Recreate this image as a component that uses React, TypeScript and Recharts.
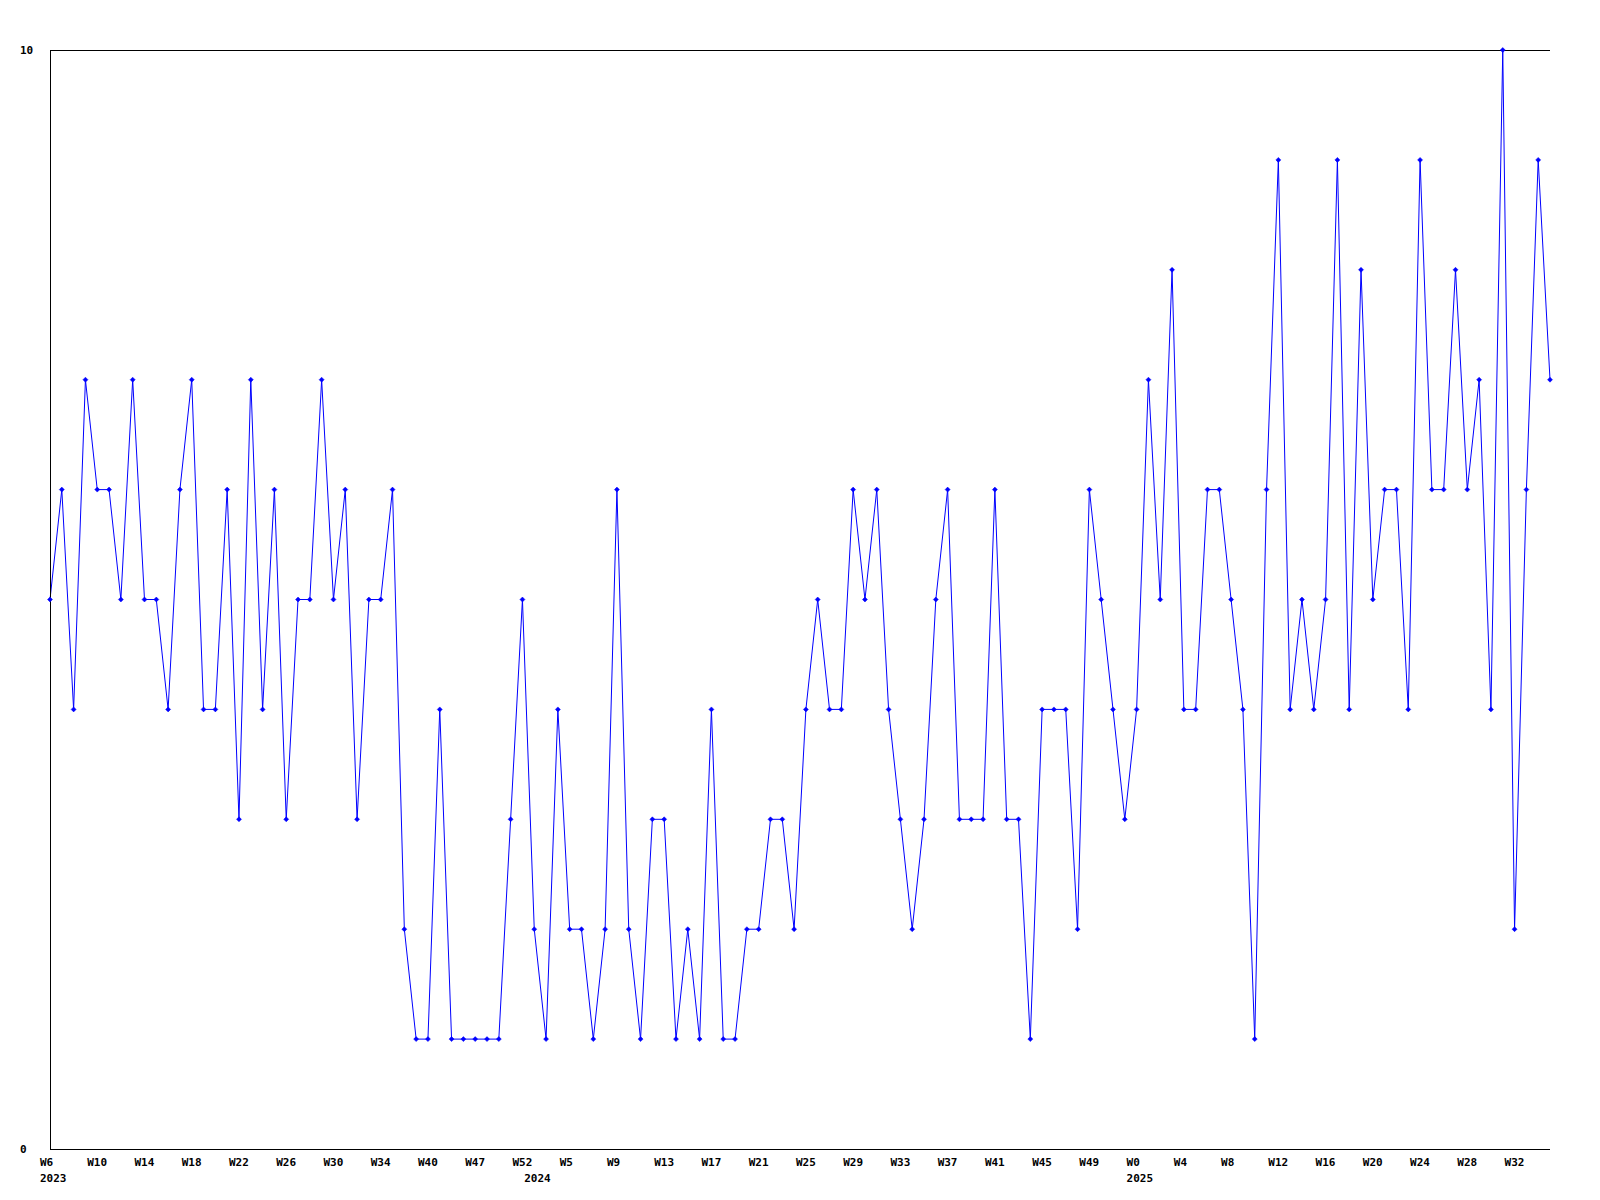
import React from 'react';
import { LineChart, Line, XAxis, YAxis, CartesianGrid } from 'recharts';

const WEEKS_2023 = [
  'W6', 'W7', 'W8', 'W9', 'W10', 'W11', 'W12', 'W13', 'W14', 'W15',
  'W16', 'W17', 'W18', 'W19', 'W20', 'W21', 'W22', 'W23', 'W24', 'W25',
  'W26', 'W27', 'W28', 'W29', 'W30', 'W31', 'W32', 'W33', 'W34', 'W35',
  'W37', 'W38', 'W40', 'W41', 'W43', 'W45', 'W47', 'W48', 'W49', 'W51',
  'W52',
];

const WEEKS_2024 = [
  'W1', 'W2', 'W4', 'W5', 'W6', 'W7', 'W8', 'W9', 'W10', 'W11',
  'W12', 'W13', 'W14', 'W15', 'W16', 'W17', 'W18', 'W19', 'W20', 'W21',
  'W22', 'W23', 'W24', 'W25', 'W26', 'W27', 'W28', 'W29', 'W30', 'W31',
  'W32', 'W33', 'W34', 'W35', 'W36', 'W37', 'W38', 'W39', 'W40', 'W41',
  'W42', 'W43', 'W44', 'W45', 'W46', 'W47', 'W48', 'W49', 'W50', 'W51',
  'W52',
];

const WEEKS_2025 = [
  'W0', 'W1', 'W2', 'W3', 'W4', 'W5', 'W6', 'W7', 'W8', 'W9',
  'W10', 'W11', 'W12', 'W13', 'W14', 'W15', 'W16', 'W17', 'W18', 'W19',
  'W20', 'W21', 'W22', 'W23', 'W24', 'W25', 'W26', 'W27', 'W28', 'W29',
  'W30', 'W31', 'W32', 'W33', 'W34', 'W35',
];

const VALUES = [
  5, 6, 4, 7, 6, 6, 5, 7, 5, 5,
  4, 6, 7, 4, 4, 6, 3, 7, 4, 6,
  3, 5, 5, 7, 5, 6, 3, 5, 5, 6,
  2, 1, 1, 4, 1, 1, 1, 1, 1, 3,
  5, 2, 1, 4, 2, 2, 1, 2, 6, 2,
  1, 3, 3, 1, 2, 1, 4, 1, 1, 2,
  2, 3, 3, 2, 4, 5, 4, 4, 6, 5,
  6, 4, 3, 2, 3, 5, 6, 3, 3, 3,
  6, 3, 3, 1, 4, 4, 4, 2, 6, 5,
  4, 3, 4, 7, 5, 8, 4, 4, 6, 6,
  5, 4, 1, 6, 9, 4, 5, 4, 5, 9,
  4, 8, 5, 6, 6, 4, 9, 6, 6, 8,
  6, 7, 4, 10, 2, 6, 9, 7,
];

const Y_TICKS = [0, 10];
const LABEL_EVERY = 4;

const FONT = '"DejaVu Sans Mono", "Liberation Mono", monospace';

const data = [
  ...WEEKS_2023.map((w) => ({ week: w, year: '2023' })),
  ...WEEKS_2024.map((w) => ({ week: w, year: '2024' })),
  ...WEEKS_2025.map((w) => ({ week: w, year: '2025' })),
].map((d, i) => ({ ...d, key: `${d.year}-${d.week}`, value: VALUES[i] }));

const WeekTick = ({ x, y, payload, index }: any) => {
  const i = payload?.index ?? index;
  const row = data[i];
  if (!row) return null;
  const showWeek = i % LABEL_EVERY === 0;
  const showYear = i === 0 || data[i - 1].year !== row.year;
  if (!showWeek && !showYear) return null;
  return (
    <g>
      {showWeek && (
        <text x={x - 10} y={y + 17} textAnchor="start" fontFamily={FONT} fontWeight="bold" fontSize={11} fill="#000">
          {row.week}
        </text>
      )}
      {showYear && (
        <text x={x - 10} y={y + 33} textAnchor="start" fontFamily={FONT} fontWeight="bold" fontSize={11} fill="#000">
          {row.year}
        </text>
      )}
    </g>
  );
};

const ValueTick = ({ y, payload }: any) => (
  <text x={12} y={y + 4} textAnchor="start" fontFamily={FONT} fontWeight="bold" fontSize={11} fill="#000">
    {payload.value}
  </text>
);

const Marker = ({ cx, cy }: any) => {
  if (cx == null || cy == null) return null;
  return (
    <path
      d={`M${cx},${cy - 2.5} L${cx + 2.5},${cy} L${cx},${cy + 2.5} L${cx - 2.5},${cy} Z`}
      fill="#0000ff"
      stroke="#0000ff"
      strokeWidth={0.5}
    />
  );
};

export default function App() {
  return (
    <div style={{ width: 1592, height: 1192, background: '#fff' }}>
      <LineChart width={1592} height={1192} data={data} margin={{ top: 42, right: 50, bottom: 11, left: 0 }}>
        {/* top border of the plot: a grid line at the y=10 tick only */}
        <CartesianGrid vertical={false} stroke="#000" strokeDasharray="" shapeRendering="crispEdges" />
        <XAxis
          dataKey="key"
          scale="point"
          padding={{ left: 0, right: 0 }}
          interval={0}
          height={40}
          tickSize={0}
          tickMargin={0}
          tickLine={false}
          axisLine={{ stroke: '#000', strokeWidth: 1, shapeRendering: 'crispEdges' }}
          tick={<WeekTick />}
        />
        <YAxis
          domain={[0, 10]}
          ticks={Y_TICKS}
          width={42}
          tickLine={false}
          axisLine={{ stroke: '#000', strokeWidth: 1, shapeRendering: 'crispEdges' }}
          tick={<ValueTick />}
        />
        <Line
          type="linear"
          dataKey="value"
          stroke="#0000ff"
          strokeWidth={1}
          dot={<Marker />}
          activeDot={false}
          isAnimationActive={false}
        />
      </LineChart>
    </div>
  );
}
